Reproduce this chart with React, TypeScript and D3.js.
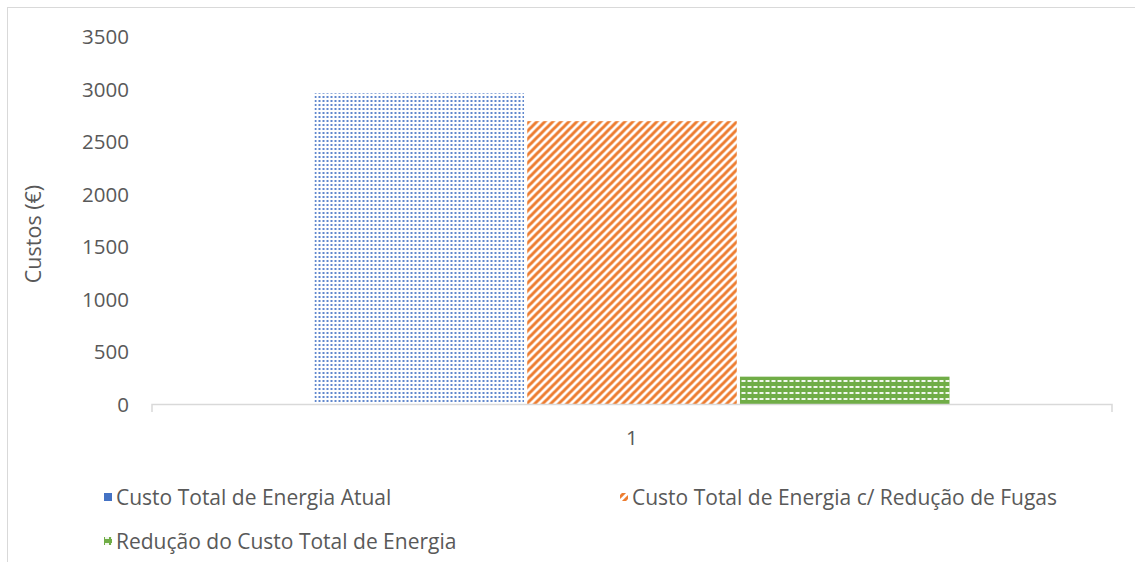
import React from "react";
import * as d3 from "d3";

const categories = ["1"];
const seriesNames = [
  "Custo Total de Energia Atual",
  "Custo Total de Energia c/ Redução de Fugas",
  "Redução do Custo Total de Energia",
];
const seriesValues = [2955, 2690, 260];
const yTicks = [0, 500, 1000, 1500, 2000, 2500, 3000, 3500];
const colors = ["#4472C4", "#ED7D31", "#70AD47"];
const patternIds = ["patDots", "patDiag", "patDash"];

const W = 1135;
const H = 562;
const FONT = "'Open Sans', sans-serif";
const TEXT = "#595959";

export default function App() {
  const x0 = d3.scaleBand<string>().domain(categories).range([152, 1112]).paddingInner(0).paddingOuter(0.2559);
  const x1 = d3.scaleBand<string>().domain(seriesNames).range([0, x0.bandwidth()]).paddingInner(0.015).paddingOuter(0);
  const y = d3.scaleLinear().domain([0, 3500]).range([404, 36]);

  const legendItems = [
    { x: 104, y: 497 },
    { x: 620, y: 497 },
    { x: 104, y: 541 },
  ];

  return (
    <svg width={W} height={H} style={{ position: "absolute", left: 0, top: 0, background: "#fff" }} fontFamily={FONT}>
      <defs>
        <pattern id="patDots" width={4} height={4} patternUnits="userSpaceOnUse">
          <rect width={4} height={4} fill="#fff" />
          <rect x={0} y={0} width={2} height={2} fill={colors[0]} opacity={0.85} />
        </pattern>
        <pattern id="patDiag" width={8} height={8} patternUnits="userSpaceOnUse">
          <rect width={8} height={8} fill="#fff" />
          <path d="M-2,2 L2,-2 M0,8 L8,0 M6,10 L10,6" stroke={colors[1]} strokeWidth={3} />
        </pattern>
        <pattern id="patDash" width={6} height={6} patternUnits="userSpaceOnUse">
          <rect width={6} height={6} fill={colors[2]} />
          <rect x={1} y={2} width={4} height={2} fill="#fff" opacity={0.9} />
        </pattern>
      </defs>

      <rect x={7.5} y={7.5} width={1300} height={700} fill="none" stroke="#D9D9D9" strokeWidth={1} />

      {yTicks.map((t) => (
        <text key={t} x={129} y={y(t)} textAnchor="end" dominantBaseline="central" fontSize={20.5} fill={TEXT}>
          {t}
        </text>
      ))}

      <text
        transform={`translate(32,234) rotate(-90)`}
        textAnchor="middle"
        dominantBaseline="central"
        fontSize={21.5}
        fill={TEXT}
      >
        Custos (€)
      </text>

      {categories.map((c) => (
        <g key={c} transform={`translate(${x0(c)},0)`}>
          {seriesNames.map((s, i) => (
            <rect
              key={s}
              x={x1(s)}
              y={y(seriesValues[i])}
              width={x1.bandwidth()}
              height={y(0) - y(seriesValues[i])}
              fill={`url(#${patternIds[i]})`}
            />
          ))}
          <text x={x0.bandwidth() / 2} y={437} textAnchor="middle" dominantBaseline="central" fontSize={20.5} fill={TEXT}>
            {c}
          </text>
        </g>
      ))}

      <path d="M152,412 V404.5 H1112 V412" fill="none" stroke="#D9D9D9" strokeWidth={1.5} />

      {seriesNames.map((s, i) => (
        <g key={s} transform={`translate(${legendItems[i].x},${legendItems[i].y})`}>
          <rect x={0} y={-4} width={8} height={8} fill={`url(#${patternIds[i]})`} />
          <rect x={0} y={-4} width={8} height={8} fill={colors[i]} opacity={i === 0 ? 1 : 0} />
          <text x={12} y={0} dominantBaseline="central" fontSize={21} fill={TEXT}>
            {s}
          </text>
        </g>
      ))}
    </svg>
  );
}
